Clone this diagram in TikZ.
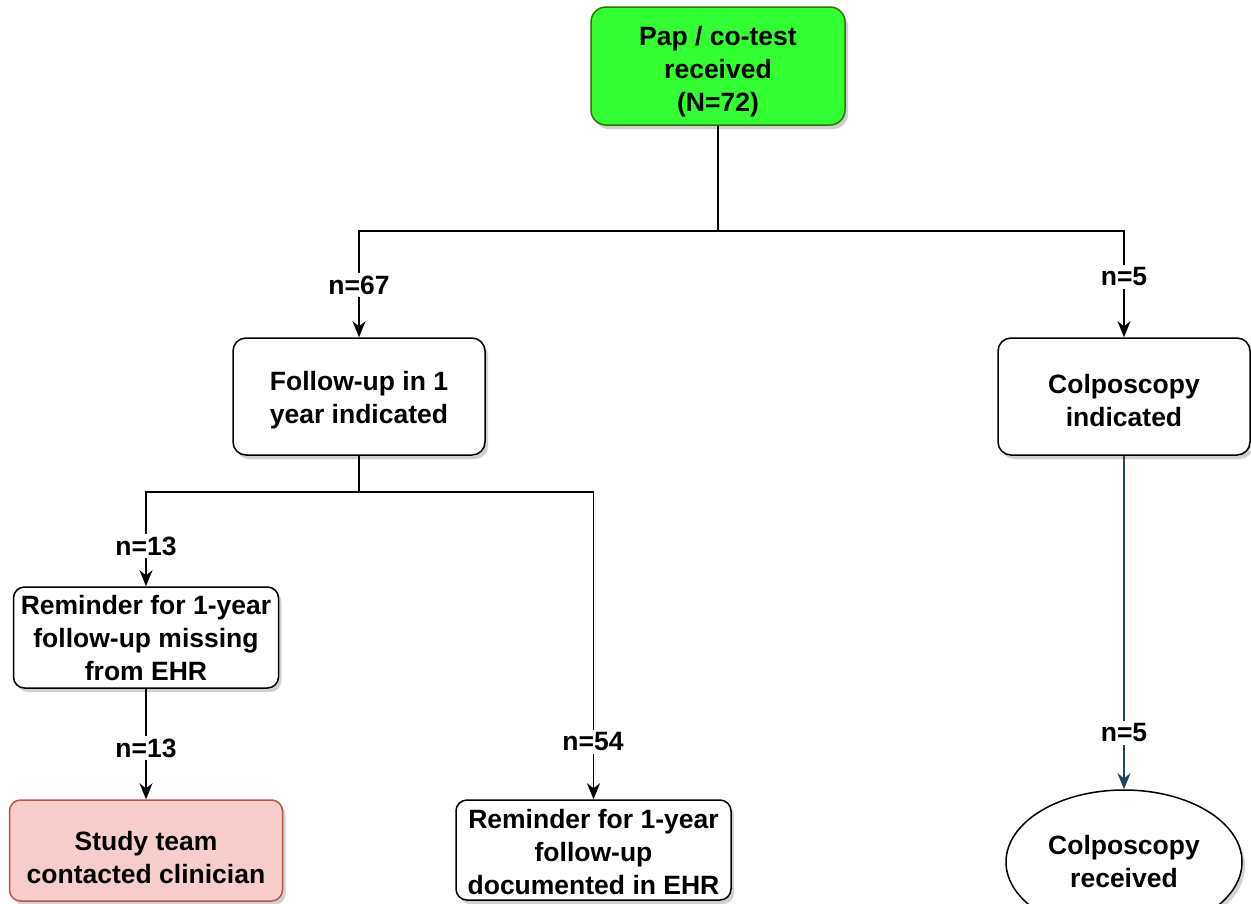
\documentclass[tikz,border=0pt]{standalone}
\usepackage{fontspec}
\setmainfont{Liberation Sans}
\usetikzlibrary{shapes.geometric,arrows.meta,shadows}
\definecolor{greenfill}{HTML}{33FF33}
\definecolor{greenline}{HTML}{2D7600}
\definecolor{redfill}{HTML}{F8CECC}
\definecolor{redline}{HTML}{B85450}
\definecolor{navy}{HTML}{23445D}
\tikzset{
  every node/.style={font=\fontsize{26.5}{33}\selectfont\bfseries, align=center},
  shad/.style={drop shadow={shadow xshift=3pt, shadow yshift=-4pt, opacity=0.3, fill=black!60}},
  box/.style={draw=black, line width=1.5pt, fill=white, rounded corners=13pt, inner sep=0pt, shad},
  lab/.style={fill=white, inner sep=3pt},
  arr/.style={line width=1.6pt, -{Stealth[length=16pt,width=13pt,inset=5pt]}},
  ln/.style={line width=1.6pt}
}
\begin{document}
\begin{tikzpicture}[x=1pt,y=-1pt]
\useasboundingbox (0,0) rectangle (1251,903);
% nodes
\node[box, draw=greenline, fill=greenfill, minimum width=254pt, minimum height=118pt, rounded corners=15pt,
  label={[yshift=-6pt]center:{Pap / co-test\\received\\(N=72)}}] (top) at (718,66) {};
\node[box, minimum width=252pt, minimum height=117pt,
  label={[yshift=-4pt]center:{Follow-up in 1\\year indicated}}] (fu) at (359,396.5) {};
\node[box, minimum width=252pt, minimum height=117pt,
  label={[yshift=-4pt]center:{Colposcopy\\indicated}}] (ci) at (1124,396.5) {};
\node[box, minimum width=265pt, minimum height=101pt, rounded corners=11pt,
  label={[yshift=-1pt]center:{Reminder for 1-year\\follow-up missing\\from EHR}}] (rm) at (146,637.5) {};
\node[box, draw=redline, fill=redfill, minimum width=273pt, minimum height=101pt, rounded corners=11pt,
  label={[yshift=-7pt]center:{Study team\\contacted clinician}}] (st) at (146,850.5) {};
\node[box, minimum width=275pt, minimum height=100pt, rounded corners=11pt,
  label={[yshift=-2pt]center:{Reminder for 1-year\\follow-up\\documented in EHR}}] (rd) at (593.5,850) {};
\node[draw=black, line width=1.5pt, fill=white, ellipse, shad, minimum width=236pt, minimum height=144pt, inner sep=0pt] (cr) at (1124,862) {Colposcopy\\received};
% junctions
\coordinate (j1) at (718,231);
\coordinate (j2) at (359,492);
% connectors
\draw[ln] (top.south) -- (j1);
\draw[arr] (j1) -| (fu.north);
\draw[arr] (j1) -| (ci.north);
\draw[ln] (fu.south) -- (j2);
\draw[arr] (j2) -| (rm.north);
\draw[arr] (j2) -| (rd.north);
\draw[arr] (rm.south) -- (st.north);
\draw[arr, draw=navy, fill=navy] (ci.south) -- (cr.north);
% labels
\node[lab] (l1) at (359,285) {n=67};
\node[lab] (l2) at (1124,277) {n=5};
\node[lab] (l3) at (146,546) {n=13};
\node[lab] (l4) at (593,742) {n=54};
\node[lab] (l5) at (146,748) {n=13};
\node[lab] (l6) at (1124,733) {n=5};
\end{tikzpicture}
\end{document}
